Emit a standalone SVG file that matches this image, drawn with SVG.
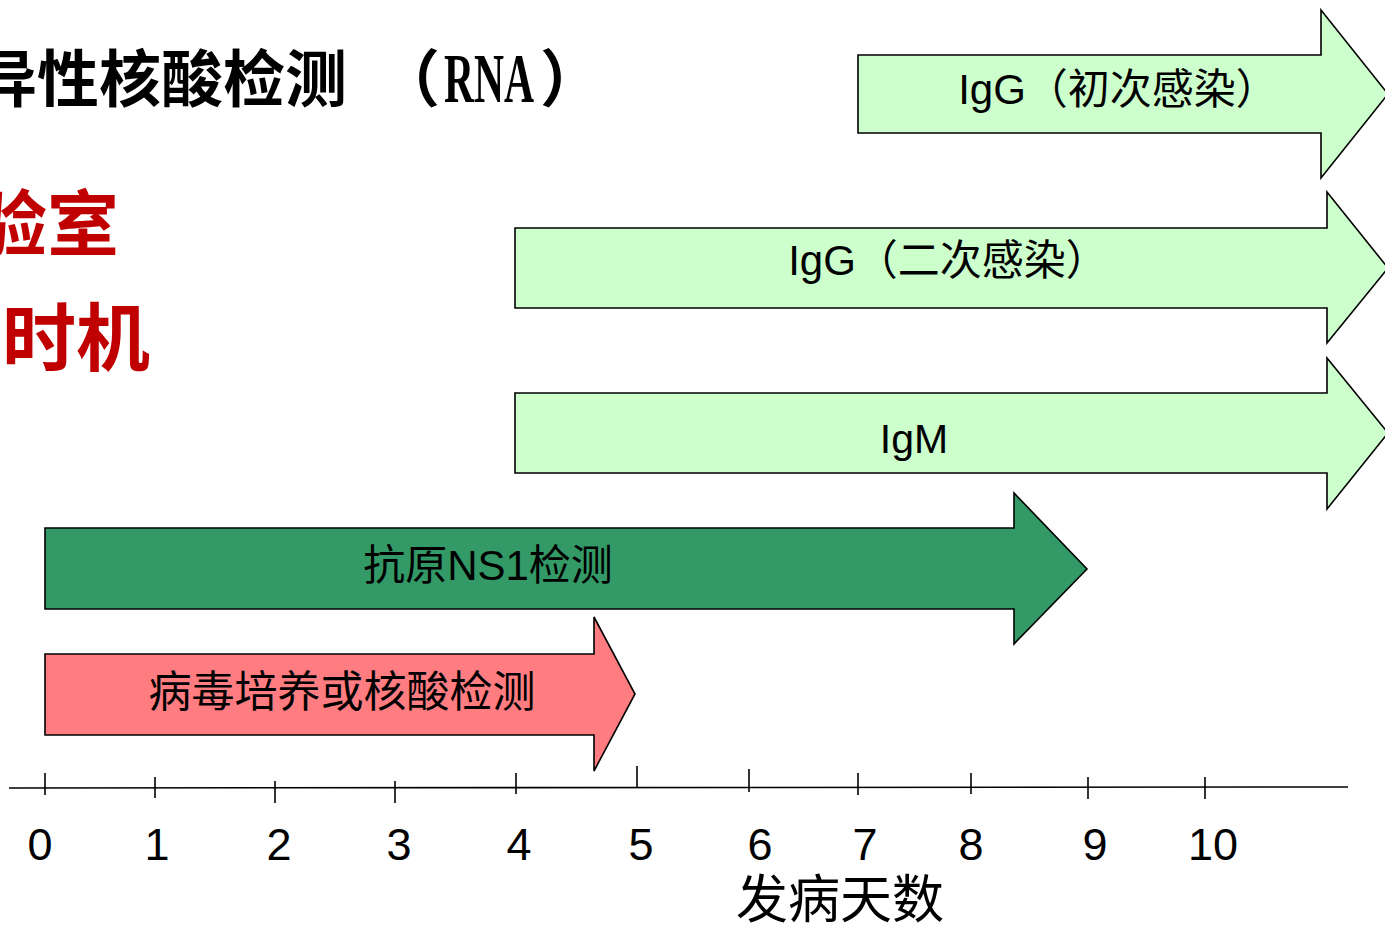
<svg xmlns="http://www.w3.org/2000/svg" width="1385" height="925" viewBox="0 0 1385 925">
<style>
.arrow{stroke:#000;stroke-width:1.6;stroke-linejoin:miter}
.lg{fill:#CCFFCC}
.dg{fill:#339966}
.pk{fill:#FF7C80}
.lbl{font-family:"Liberation Sans","Noto Sans CJK SC",sans-serif;fill:#000;text-anchor:middle}
.num{font-family:"Liberation Sans",Arial,sans-serif;font-size:45px;fill:#000;text-anchor:middle}
.tick{stroke:#000;stroke-width:1.6}
.title{font-family:"Noto Sans CJK SC",sans-serif;font-weight:700;fill:#000}
.red{font-family:"Noto Sans CJK SC",sans-serif;font-weight:700;fill:#C00000}
</style>
<rect width="1385" height="925" fill="#fff"/>
<g id="title">
<text class="title" x="-25" y="102" font-size="62">异性核酸检测</text>
<text class="title" x="378" y="102" font-size="62">（</text>
<text x="444" y="102" font-family="Liberation Serif,serif" font-weight="700" font-size="70" textLength="90" lengthAdjust="spacingAndGlyphs">RNA</text>
<text class="title" x="540" y="102" font-size="62">）</text>
</g>
<g id="red-text">
<text class="red" x="-25" y="250" font-size="72">验室</text>
<text class="red" x="2" y="365" font-size="74">时机</text>
</g>
<g id="igg-primary">
<polygon class="arrow lg" points="858,55 1321,55 1321,10 1388,94 1321,178 1321,133 858,133"/>
<text class="lbl" x="1118" y="104" font-size="42">IgG（初次感染）</text>
</g>
<g id="igg-secondary">
<polygon class="arrow lg" points="515,228 1327,228 1327,192 1388,268 1327,343 1327,308 515,308"/>
<text class="lbl" x="948" y="275" font-size="42">IgG（二次感染）</text>
</g>
<g id="igm">
<polygon class="arrow lg" points="515,393 1327,393 1327,358 1388,433 1327,509 1327,473 515,473"/>
<text class="lbl" x="914" y="453" font-size="41">IgM</text>
</g>
<g id="ns1">
<polygon class="arrow dg" points="45,528 1014,528 1014,493 1087,569 1014,644 1014,609 45,609"/>
<text class="lbl" x="488" y="580" font-size="42">抗原NS1检测</text>
</g>
<g id="culture">
<polygon class="arrow pk" points="45,654 594,654 594,617 635,694 594,771 594,735 45,735"/>
<text class="lbl" x="342" y="707" font-size="43">病毒培养或核酸检测</text>
</g>
<g id="axis">
<line class="tick" x1="9" y1="788" x2="1348" y2="787"/>
<line class="tick" x1="45" y1="773" x2="45" y2="795"/>
<line class="tick" x1="155" y1="777" x2="155" y2="798"/>
<line class="tick" x1="275" y1="781" x2="275" y2="803"/>
<line class="tick" x1="395" y1="781" x2="395" y2="803"/>
<line class="tick" x1="516" y1="773" x2="516" y2="794"/>
<line class="tick" x1="637" y1="766" x2="637" y2="787"/>
<line class="tick" x1="749" y1="769" x2="749" y2="792"/>
<line class="tick" x1="858" y1="773" x2="858" y2="795"/>
<line class="tick" x1="971" y1="773" x2="971" y2="794"/>
<line class="tick" x1="1088" y1="777" x2="1088" y2="799"/>
<line class="tick" x1="1205" y1="777" x2="1205" y2="799"/>
<text class="num" x="40" y="860">0</text>
<text class="num" x="157" y="860">1</text>
<text class="num" x="279" y="860">2</text>
<text class="num" x="399" y="860">3</text>
<text class="num" x="519" y="860">4</text>
<text class="num" x="641" y="860">5</text>
<text class="num" x="760" y="860">6</text>
<text class="num" x="865" y="860">7</text>
<text class="num" x="971" y="860">8</text>
<text class="num" x="1095" y="860">9</text>
<text class="num" x="1213" y="860">10</text>
<text x="840" y="918" font-family="Noto Sans CJK SC,sans-serif" font-size="52" text-anchor="middle">发病天数</text>
</g>
</svg>
